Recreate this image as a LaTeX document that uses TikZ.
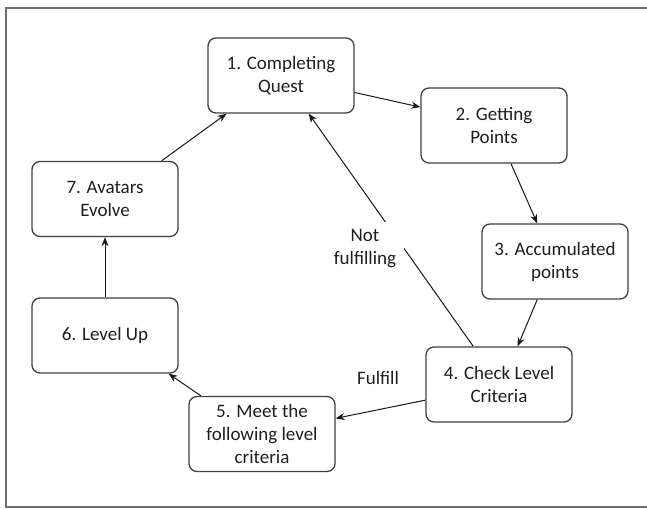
\documentclass[tikz,border=0pt]{standalone}
\usepackage{fontspec}
\setmainfont{Carlito}
\usetikzlibrary{arrows.meta}
\definecolor{framegray}{RGB}{110,110,110}
\definecolor{boxgray}{RGB}{64,64,64}
\definecolor{txt}{RGB}{30,30,30}
\begin{document}
\begin{tikzpicture}[x=1pt,y=-1pt,
  stepbox/.style={draw=boxgray, line width=1.3pt, rounded corners=8pt,
    minimum width=146pt, minimum height=75pt, inner sep=0pt, align=center,
    text=txt, font=\fontsize{19}{23}\selectfont},
  lbl/.style={inner sep=0pt, align=center, text=txt, font=\fontsize{19}{23}\selectfont},
  conn/.style={draw=black!90, line width=1pt, -{Stealth[length=9pt,width=7pt]}}]
\useasboundingbox (0,0) rectangle (647,508);
% outer frame (open at the right)
\coordinate (ftr) at (647,8);
\coordinate (ftl) at (6,8);
\coordinate (fbl) at (6,507);
\coordinate (fbr) at (647,507);
\draw[framegray, line width=1.5pt] (ftr) -- (ftl) -- (fbl) -- (fbr);
% boxes
\node[stepbox] (b1) at (281,75.5) {1. Completing\\Quest};
\node[stepbox] (b2) at (494,125.5) {2. Getting\\Points};
\node[stepbox] (b3) at (555,261.5) {3. Accumulated\\points};
\node[stepbox] (b4) at (499,384.5) {4. Check Level\\Criteria};
\node[stepbox] (b5) at (262,434) {5. Meet the\\following level\\criteria};
\node[stepbox] (b6) at (105,335.5) {6. Level Up};
\node[stepbox] (b7) at (105,199) {7. Avatars\\Evolve};
% connectors
\draw[conn] (b1.-13.5) -- (b2.166);
\draw[conn] (b2.-66.9) -- (b3.115.6);
\draw[conn] (b3.245.6) -- (b4.64.4);
\draw[conn] (b4.192.7) -- (b5.12.4);
\draw[conn] (b4.124.7) -- (b1.-54.2);
\draw[conn] (b5.148.3) -- (b6.-31.2);
\draw[conn] (b6.north) -- (b7.south);
\draw[conn] (b7.34.4) -- (b1.-145.2);
% labels
\node[lbl, fill=white, minimum width=78pt, minimum height=54pt] (notf) at (365,249) {Not\\fulfilling};
\node[lbl] (ful) at (378,378) {Fulfill};
\end{tikzpicture}
\end{document}
